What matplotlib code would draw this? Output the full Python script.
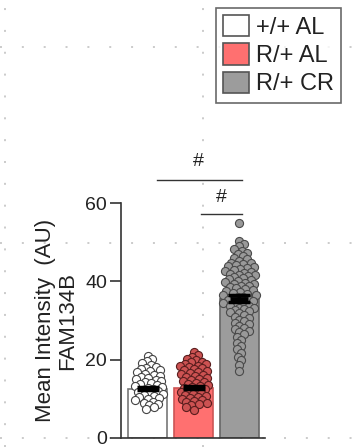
import matplotlib
matplotlib.use("Agg")
import matplotlib.pyplot as plt
from matplotlib.patches import Patch
from matplotlib.lines import Line2D
import numpy as np

plt.rcParams['font.family'] = ['Liberation Sans', 'DejaVu Sans']

groups = ["+/+ AL", "R/+ AL", "R/+ CR"]
means = [12.6, 12.8, 35.6]
sems = [0.4, 0.4, 0.8]

vals_wt_al = [21.0, 20.2, 19.6, 19.1,
              18.6, 18.2, 17.9, 17.7, 17.3, 17.0, 16.8, 16.4, 16.1, 15.9, 15.6, 15.3,
              15.1, 14.8, 14.6, 14.2, 14.0, 13.8, 13.5, 13.3, 13.0, 12.8, 12.5, 12.3,
              12.0, 11.8, 11.5, 11.3, 11.0, 10.7, 10.5, 10.2, 9.9, 9.7, 9.3, 9.0, 8.8, 8.4,
              7.9, 7.3]
vals_r_al = [22.0, 21.3, 20.7, 20.2,
             19.8, 19.5, 19.3, 19.0, 18.8, 18.5, 18.3, 18.1, 17.8, 17.5, 17.3, 17.1,
             16.8, 16.5, 16.3, 16.0, 15.8, 15.6, 15.3, 15.0, 14.8, 14.6, 14.3, 14.0,
             13.8, 13.6, 13.3, 13.0, 12.8, 12.6, 12.3, 12.0, 11.8, 11.6, 11.3, 11.0,
             10.8, 10.5, 10.3, 10.0, 9.8, 9.5, 9.3, 9.0, 8.8, 8.5,
             7.9, 7.2]
vals_r_cr = [54.8, 50.3, 49.5, 48.9, 48.3, 47.8, 47.3, 46.9, 46.4, 46.0, 45.6, 45.2,
             44.8, 44.6, 44.3, 44.1, 43.8, 43.6, 43.4, 43.1, 42.9, 42.7, 42.4, 42.2,
             42.0, 41.7, 41.5, 41.3, 41.0, 40.8, 40.6, 40.3, 40.1, 39.9, 39.6, 39.4,
             39.2, 38.9, 38.7, 38.5, 38.2, 38.0, 37.8, 37.5, 37.3, 37.1, 36.8, 36.6,
             36.4, 36.1, 35.9, 35.7, 35.4, 35.2, 35.0, 34.7, 34.5, 34.3, 34.0, 33.8,
             33.6, 33.3, 33.1, 32.9, 32.6, 32.4, 32.2,
             31.8, 31.4, 31.0, 30.6, 30.2, 29.8, 29.4, 29.0, 28.6, 28.2, 27.8, 27.4,
             27.0, 26.5,
             25.8, 25.0, 24.2, 23.4, 22.6, 21.8, 20.8, 19.8, 18.6, 17.2]
point_vals = [vals_wt_al, vals_r_al, vals_r_cr]

bar_colors = ["#ffffff", "#ff7070", "#9c9c9c"]
bar_edges = ["#777777", "#cc5555", "#666666"]
pt_faces = ["#ffffff", "#cc5252", "#999999"]
pt_edges = ["#444444", "#5a1e1e", "#4a4a4a"]

W, H, DPI = 354, 447, 100
fig = plt.figure(figsize=(W / DPI, H / DPI), dpi=DPI)

# faint dotted layout guides
guide_kw = dict(color="#bdbdbd", lw=1.1, linestyle=(0, (1.3, 13)), zorder=-5)
for xg in [5, 203]:
    fig.add_artist(Line2D([xg / W, xg / W], [0, 1], transform=fig.transFigure, **guide_kw))
for yg in [47, 243, 438]:
    fig.add_artist(Line2D([0, 1], [1 - yg / H, 1 - yg / H], transform=fig.transFigure, **guide_kw))

ax_left, ax_right = 121, 265
y0px, y60px = 438, 203
ax = fig.add_axes([ax_left / W, 1 - y0px / H, (ax_right - ax_left) / W, (y0px - y60px) / H])
ax.set_facecolor("none")

x = np.arange(3)
bw = 0.85
xlim = (-0.587, 2.565)
ax.set_xlim(*xlim)
ax.set_ylim(0, 60)

ax.bar(x, means, width=bw, color=bar_colors, edgecolor=bar_edges, linewidth=1.2, zorder=2)

# swarm layout in pixel space
xpx = (ax_right - ax_left) / (xlim[1] - xlim[0])
ypx = (y0px - y60px) / 60.0
d = 5.2

def swarm(vals):
    placed = []
    offs = []
    for v in sorted(vals, reverse=True):
        yv = v * ypx
        chosen = None
        k = 0
        while chosen is None:
            cands = [0.0] if k == 0 else [k * 0.5, -k * 0.5]
            for c in cands:
                if all((c - px) ** 2 + (yv - py) ** 2 >= d * d for px, py in placed):
                    chosen = c
                    break
            k += 1
        placed.append((chosen, yv))
        offs.append((chosen / xpx, v))
    return offs

for i, vals in enumerate(point_vals):
    pts = swarm(vals)
    ax.scatter([i + o for o, _ in pts], [v for _, v in pts], s=34, facecolor=pt_faces[i],
               edgecolor=pt_edges[i], linewidth=0.8, zorder=3, clip_on=False)
    ax.errorbar(i, means[i], yerr=sems[i], color="black", capsize=8, capthick=2.5,
                elinewidth=2, zorder=4)
    ax.plot([i - 0.2, i + 0.2], [means[i], means[i]], color="black", lw=3.5,
            solid_capstyle="butt", zorder=4)

# significance
ax.plot([0.2, 2.07], [65.8, 65.8], color="#333333", lw=1.0, clip_on=False)
ax.text(1.11, 68.3, "#", ha="center", va="bottom", fontsize=14, color="#222222")
ax.plot([1.17, 2.07], [57.1, 57.1], color="#333333", lw=1.0, clip_on=False)
ax.text(1.6, 59.3, "#", ha="center", va="bottom", fontsize=14, color="#222222")

for s in ["top", "right"]:
    ax.spines[s].set_visible(False)
for s in ["left", "bottom"]:
    ax.spines[s].set_linewidth(1.2)
    ax.spines[s].set_color("#333333")
ax.set_xticks([])
ax.set_yticks([0, 20, 40, 60])
ax.tick_params(axis="y", length=8, width=1.2, color="#333333", labelsize=14,
               labelcolor="#222222", pad=2)
ax.set_ylabel("Mean Intensity  (AU)\nFAM134B", fontsize=16, color="#222222",
              labelpad=5, linespacing=1.05)

handles = [Patch(facecolor=c, edgecolor="#555555", linewidth=1.2) for c in bar_colors]
leg = fig.legend(handles, groups, loc="upper right", bbox_to_anchor=(341 / W, 1 - 8 / H),
                 fontsize=17, frameon=True, fancybox=False, handlelength=1.1,
                 handleheight=1.0, handletextpad=0.3, borderpad=0.3, labelspacing=0.2,
                 borderaxespad=0)
leg.get_frame().set_edgecolor("#444444")
leg.get_frame().set_linewidth(1.2)
for t in leg.get_texts():
    t.set_color("#222222")

fig.savefig("out.png", dpi=DPI)
